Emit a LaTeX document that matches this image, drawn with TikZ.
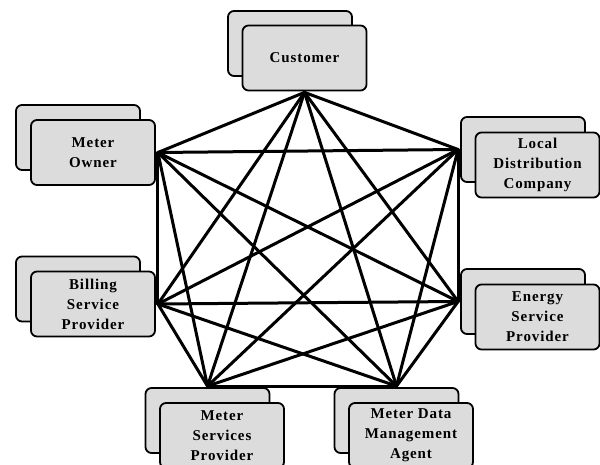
\documentclass[tikz,border=0pt]{standalone}
\usepackage{fontspec}
\setmainfont{Liberation Serif}
\newfontfamily\boxfont{Liberation Serif}[LetterSpace=6,BoldFont={Liberation Serif Bold}]
\definecolor{boxgray}{HTML}{DCDCDC}
\tikzset{
  roundbox/.style={draw=black, fill=boxgray, rounded corners=6pt, line width=1.8pt,
    minimum width=124pt, minimum height=65pt, inner sep=0pt, align=center,
    font=\boxfont\bfseries\fontsize{15pt}{20pt}\selectfont},
  link/.style={line width=3pt, black, line cap=round}
}
\begin{document}
\begin{tikzpicture}[x=1pt,y=-1pt]
\useasboundingbox (0,0) rectangle (600,465);
% back boxes
\node[roundbox] (Cb) at (290,43.5) {};
\node[roundbox] (MOb) at (78,137.5) {};
\node[roundbox] (LDb) at (523,149.5) {};
\node[roundbox] (Bb) at (78,289) {};
\node[roundbox] (Eb) at (523,301.5) {};
\node[roundbox] (MSb) at (207.5,420.5) {};
\node[roundbox] (MDb) at (396.5,420.5) {};
% front boxes
\node[roundbox] (C) at (304.5,58) {Customer};
\node[roundbox] (MO) at (93,152.5) {Meter\\Owner};
\node[roundbox] (LD) at (537.5,165) {Local\\Distribution\\Company};
\node[roundbox] (B) at (93,304) {Billing\\Service\\Provider};
\node[roundbox] (E) at (537.5,317) {Energy\\Service\\Provider};
\node[roundbox] (MS) at (222,435.5) {Meter\\Services\\Provider};
\node[roundbox] (MD) at (411,435.5) {Meter Data\\Management\\Agent};
% hubs
\coordinate (hC) at ([yshift=-1pt]C.south);
\coordinate (hMO) at ([xshift=2pt]MO.east);
\coordinate (hLD) at ([xshift=-2pt]LDb.west);
\coordinate (hB) at ([xshift=2pt]B.east);
\coordinate (hE) at ([xshift=-2pt]Eb.west);
\coordinate (hMS) at ([yshift=1pt]MSb.north);
\coordinate (hMD) at ([yshift=1pt]MDb.north);
% links (complete graph)
\foreach \a/\b in {hC/hMO,hC/hLD,hC/hB,hC/hE,hC/hMS,hC/hMD,
                   hMO/hLD,hMO/hB,hMO/hE,hMO/hMS,hMO/hMD,
                   hLD/hB,hLD/hE,hLD/hMS,hLD/hMD,
                   hB/hE,hB/hMS,hB/hMD,
                   hE/hMS,hE/hMD,
                   hMS/hMD}
  \draw[link] (\a) -- (\b);
\end{tikzpicture}
\end{document}
